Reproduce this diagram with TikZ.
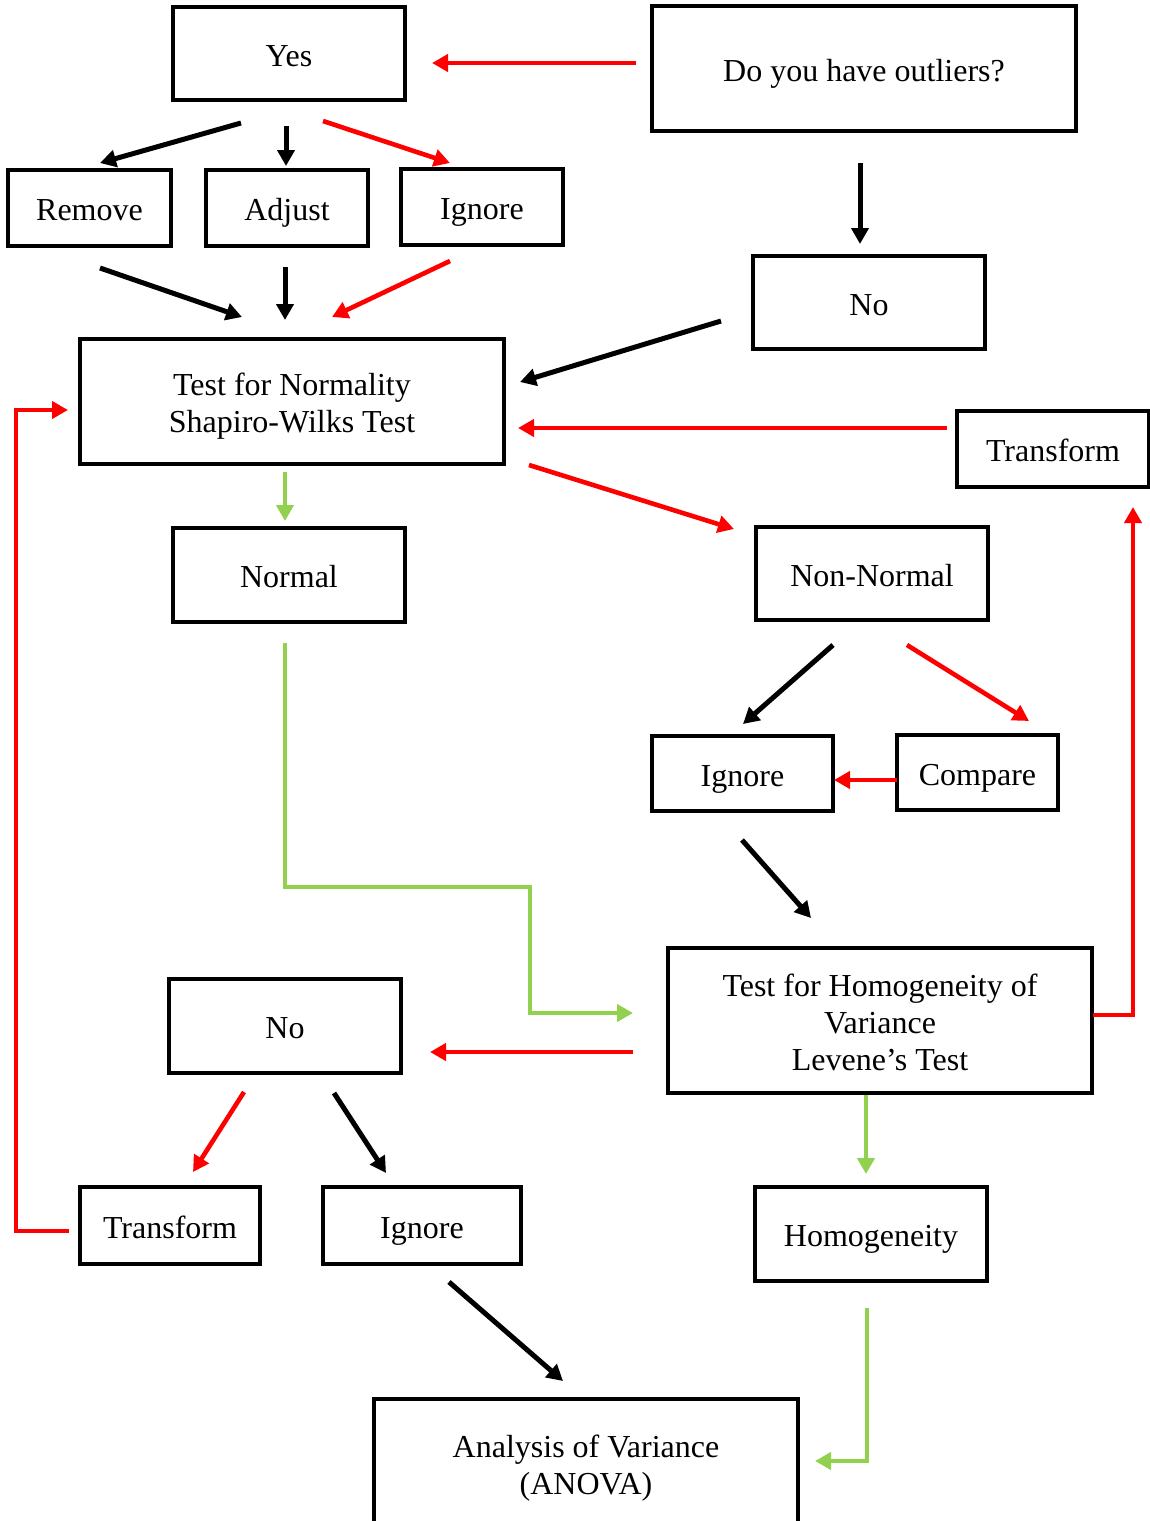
\documentclass[tikz,border=0pt]{standalone}
\usepackage{fontspec}
\setmainfont{Liberation Serif}
\usetikzlibrary{arrows.meta,calc}
\definecolor{rd}{RGB}{255,0,0}
\definecolor{gn}{RGB}{146,208,80}
\newcommand\topstrut{\rule{0pt}{1.01em}}
\newcommand\botstrut{\rule[-0.22em]{0pt}{0.22em}}
\tikzset{
  box/.style={draw, line width=3.3pt, inner sep=0pt, outer sep=0pt, align=center,
    font=\fontsize{32}{37}\selectfont,
    execute at begin node=\topstrut, execute at end node=\botstrut},
  conn/.style={-{Triangle[length=16pt,width=17pt]}},
  blk/.style={conn, black, line width=5pt},
  redc/.style={conn, rd, line width=4.6pt},
  grnc/.style={conn, gn, line width=4.2pt},
}
\begin{document}
\begin{tikzpicture}[x=1pt,y=-1pt]
\clip (0,0) rectangle (1150,1521);
% boxes
\node[box, minimum width=232, minimum height=93] (yes) at (289,53.5) {Yes};
\node[box, minimum width=424, minimum height=125] (out) at (864,68.5) {Do you have outliers?};
\node[box, minimum width=163, minimum height=76] (remove) at (89.5,208) {Remove};
\node[box, minimum width=162, minimum height=76] (adjust) at (287,208) {Adjust};
\node[box, minimum width=162, minimum height=76] (ignA) at (482,207) {Ignore};
\node[box, minimum width=232, minimum height=93] (noA) at (869,302.5) {No};
\node[box, minimum width=424, minimum height=125] (testn) at (292,401.5) {\topstrut Test for Normality\\Shapiro-Wilks Test};
\node[box, minimum width=192, minimum height=76] (trR) at (1053,449) {Transform};
\node[box, minimum width=232, minimum height=94] (normal) at (289,575) {Normal};
\node[box, minimum width=232, minimum height=93] (nonn) at (872,573.5) {Non-Normal};
\node[box, minimum width=181, minimum height=75] (ignB) at (742.5,773.5) {Ignore};
\node[box, minimum width=161, minimum height=75] (compare) at (977.5,772.5) {Compare};
\node[box, minimum width=424, minimum height=145] (testh) at (880,1020.5) {\topstrut Test for Homogeneity of\\Variance\\Levene’s Test};
\node[box, minimum width=232, minimum height=94] (noB) at (285,1026) {No};
\node[box, minimum width=180, minimum height=77] (trB) at (170,1225.5) {Transform};
\node[box, minimum width=198, minimum height=77] (ignC) at (422,1225.5) {Ignore};
\node[box, minimum width=232, minimum height=94] (homog) at (871,1234) {Homogeneity};
\node[box, minimum width=424, minimum height=128] (anova) at (586,1463) {\topstrut Analysis of Variance\\(ANOVA)};
% connectors
\draw[redc] ($(out.west)+(-16,-5.5)$) -- ($(yes.east)+(27,9.5)$);
\draw[blk] ($(yes.south)+(-48,23)$) -- ($(remove.north)+(10.5,-7)$);
\draw[blk] ($(yes.south)+(-3,26)$) -- ($(adjust.north)+(-1,-4)$);
\draw[redc] ($(yes.south)+(34,21)$) -- ($(ignA.north)+(-32,-6)$);
\draw[blk] ($(remove.south)+(10.5,22)$) -- ($(testn.north)+(-50,-22)$);
\draw[blk] ($(adjust.south)+(-2,21)$) -- ($(testn.north)+(-7,-19)$);
\draw[redc] ($(ignA.south)+(-32,16)$) -- ($(testn.north)+(40,-22)$);
\draw[blk] ($(out.south)+(-4,32)$) -- ($(noA.north)+(-9,-12)$);
\draw[blk] ($(noA.west)+(-32,18.5)$) -- ($(testn.east)+(16,-19.5)$);
\draw[redc] ($(trR.west)+(-10,-21)$) -- ($(testn.east)+(14,26.5)$);
\draw[redc] ($(testn.south east)+(25,1)$) -- ($(nonn.north west)+(-22,2)$);
\draw[grnc] ($(testn.south)+(-7,8)$) -- ($(normal.north)+(-4,-7)$);
\draw[grnc] ($(normal.south)+(-4,21)$) -- ++(0,244) -- ++(245,0) -- ++(0,126) -- ($(testh.west)+(-35,-7.5)$);
\draw[blk] ($(nonn.south)+(-39,25)$) -- ($(ignB.north)+(0.5,-12)$);
\draw[redc] ($(nonn.south)+(35,25)$) -- ($(compare.north)+(51.5,-14)$);
\draw[redc] ($(compare.west)+(0,7.5)$) -- ($(ignB.east)+(1,6.5)$);
\draw[blk] ($(ignB.south)+(-0.5,29)$) -- ($(testh.north)+(-69,-30)$);
\draw[redc] ($(testh.east)+(1,-5.5)$) -| ($(trR.south)+(80,20)$);
\draw[redc] ($(testh.west)+(-35,31.5)$) -- ($(noB.east)+(29,26)$);
\draw[grnc] ($(testh.south)+(-14,2)$) -- ($(homog.north)+(-5,-13)$);
\draw[redc] ($(noB.south)+(-41,19)$) -- ($(trB.north)+(23,-15)$);
\draw[blk] ($(noB.south)+(49,20)$) -- ($(ignC.north)+(-36,-14)$);
\draw[redc] ($(trB.west)+(-11,5.5)$) -- ++(-53,0) |- ($(testn.west)+(-12,8.5)$);
\draw[blk] ($(ignC.south)+(27,18)$) -- ($(anova.north)+(-23,-18)$);
\draw[grnc] ($(homog.south)+(-4,27)$) |- ($(anova.east)+(17,-2)$);
\end{tikzpicture}
\end{document}
